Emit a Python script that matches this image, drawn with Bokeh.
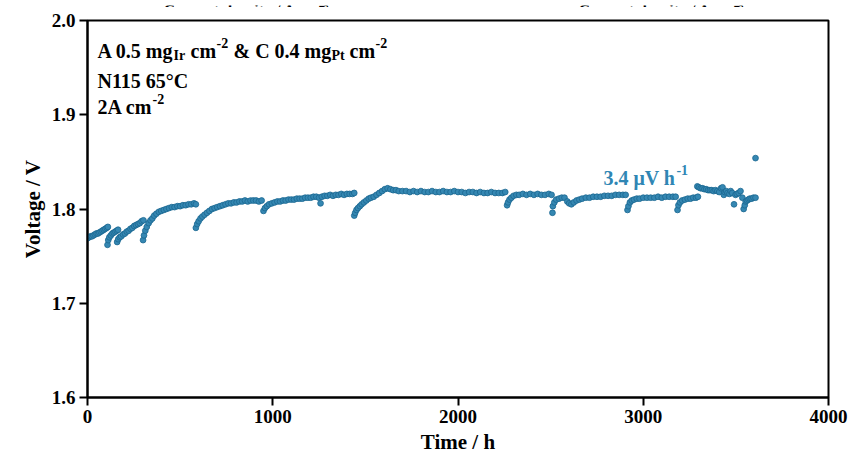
from bokeh.plotting import figure
from bokeh.models import Range1d, FixedTicker, Label, PrintfTickFormatter
from bokeh.layouts import column
from bokeh.core.properties import value
from bokeh.embed import file_html
from bokeh.resources import INLINE

# ---- data (time in h, voltage in V) ----
hours = [
    0, 8, 16, 24, 32, 40, 48, 56, 64, 72, 80, 88, 96, 104, 110,
    108, 112, 118, 126, 134, 142, 150, 158, 165,
    160, 166, 174, 182, 192, 202, 212, 222, 232, 242, 252, 262, 272, 282, 292, 302,
    300, 305, 312, 320, 330, 340, 350, 360, 372, 385, 398, 412, 426, 440, 455, 470,
    485, 500, 515, 530, 545, 560, 575, 585,
    585, 592, 600, 610, 620, 632, 645, 658, 672, 686, 700, 715, 730, 745, 760, 775,
    790, 805, 820, 835, 850, 865, 880, 895, 910, 925, 940,
    950, 958, 968, 980, 995, 1010, 1025, 1040, 1055, 1070, 1085, 1100, 1115, 1130,
    1145, 1160, 1175, 1190, 1205, 1220, 1235, 1250, 1258, 1265, 1280, 1295, 1310,
    1325, 1340, 1355, 1370, 1385, 1400, 1415, 1430, 1440,
    1440, 1445, 1452, 1460, 1470, 1480, 1492, 1505, 1518, 1530, 1545, 1560, 1575,
    1590, 1605, 1620, 1635, 1650, 1665, 1680, 1700, 1720, 1740, 1760, 1780, 1800,
    1820, 1840, 1860, 1880, 1900, 1920, 1940, 1960, 1980, 2000, 2020, 2040, 2060,
    2080, 2100, 2120, 2140, 2160, 2180, 2200, 2220, 2240, 2255,
    2265, 2270, 2278, 2288, 2300, 2315, 2330, 2350, 2370, 2390, 2410, 2430, 2450,
    2470, 2490, 2505,
    2510, 2512, 2520, 2530, 2545, 2560, 2575, 2590, 2600, 2612, 2625, 2640, 2655,
    2670, 2690, 2710, 2730, 2750, 2770, 2790, 2810, 2830, 2850, 2870, 2890, 2905,
    2915, 2920, 2928, 2938, 2950, 2965, 2980, 3000, 3020, 3040, 3060, 3080, 3100,
    3120, 3140, 3160, 3175,
    3185, 3190, 3198, 3210, 3225, 3240, 3255, 3270, 3285, 3295,
    3292, 3300, 3310, 3320, 3330, 3340, 3350, 3360, 3370, 3380, 3390, 3400, 3410,
    3420, 3428, 3435, 3440, 3448, 3455, 3465, 3472, 3480, 3490, 3498, 3505, 3515,
    3525, 3535, 3542, 3548, 3553, 3560, 3568, 3575, 3585, 3595, 3606, 3606,
]
volts = [
    1.769, 1.770, 1.771, 1.771, 1.772, 1.773, 1.774, 1.774, 1.775, 1.776, 1.777, 1.778, 1.779, 1.780, 1.781,
    1.762, 1.767, 1.770, 1.772, 1.774, 1.775, 1.776, 1.777, 1.778,
    1.765, 1.768, 1.770, 1.771, 1.773, 1.774, 1.776, 1.777, 1.779, 1.780, 1.782, 1.783, 1.784, 1.785, 1.787, 1.788,
    1.767, 1.772, 1.777, 1.781, 1.785, 1.788, 1.790, 1.793, 1.795, 1.797, 1.798, 1.799, 1.800, 1.801, 1.802, 1.802,
    1.803, 1.803, 1.804, 1.804, 1.805, 1.805, 1.806, 1.805,
    1.780, 1.784, 1.787, 1.790, 1.792, 1.794, 1.796, 1.798, 1.800, 1.801, 1.802, 1.803, 1.804, 1.805, 1.806, 1.806,
    1.807, 1.807, 1.808, 1.808, 1.809, 1.808, 1.809, 1.809, 1.809, 1.808, 1.809,
    1.798, 1.801, 1.803, 1.805, 1.806, 1.807, 1.808, 1.808, 1.809, 1.809, 1.810, 1.810, 1.810, 1.811,
    1.811, 1.811, 1.812, 1.812, 1.812, 1.813, 1.813, 1.812, 1.806, 1.813, 1.814, 1.814, 1.815,
    1.814, 1.815, 1.815, 1.816, 1.815, 1.816, 1.816, 1.816, 1.817,
    1.793, 1.796, 1.799, 1.801, 1.803, 1.805, 1.807, 1.809, 1.811, 1.812, 1.813, 1.815, 1.817,
    1.819, 1.821, 1.822, 1.821, 1.820, 1.820, 1.819, 1.819, 1.819, 1.818, 1.819, 1.818, 1.819,
    1.818, 1.818, 1.819, 1.818, 1.818, 1.819, 1.818, 1.818, 1.819, 1.818, 1.818, 1.817, 1.818,
    1.818, 1.817, 1.818, 1.817, 1.817, 1.818, 1.817, 1.817, 1.817, 1.818,
    1.804, 1.807, 1.810, 1.812, 1.814, 1.815, 1.815, 1.816, 1.815, 1.816, 1.815, 1.816, 1.815,
    1.815, 1.816, 1.815,
    1.796, 1.803, 1.807, 1.810, 1.811, 1.812, 1.812, 1.808, 1.806, 1.805, 1.807, 1.809, 1.810,
    1.811, 1.812, 1.812, 1.813, 1.813, 1.813, 1.814, 1.814, 1.814, 1.815, 1.815, 1.815, 1.815,
    1.799, 1.803, 1.807, 1.809, 1.810, 1.811, 1.811, 1.812, 1.812, 1.812, 1.812, 1.813, 1.812,
    1.813, 1.813, 1.813, 1.813,
    1.799, 1.804, 1.807, 1.809, 1.810, 1.811, 1.811, 1.812, 1.812, 1.813,
    1.824, 1.823, 1.822, 1.822, 1.821, 1.821, 1.820, 1.820, 1.820, 1.819, 1.820, 1.819, 1.818,
    1.822, 1.823, 1.815, 1.818, 1.819, 1.817, 1.816, 1.819, 1.817, 1.805, 1.815, 1.816, 1.817,
    1.819, 1.812, 1.800, 1.804, 1.808, 1.809, 1.810, 1.811, 1.811, 1.812, 1.812, 1.854,
]

x_ticks = [0, 1000, 2000, 3000, 4000]
y_ticks = [1.6, 1.7, 1.8, 1.9, 2.0]
neighbour_titles = ["Current density / A cm⁻²", "Current density / A cm⁻²"]
neighbour_title_hours = [410, 2650]   # left edges of the cut-off titles, on the time axis

FONT = "Liberation Serif"
BLUE = "#3587b2"
EDGE = "#1b6790"
TEXT_BLUE = "#2f86b4"
STRIP_H = 7

# thin strip at the very top showing the cut-off titles of neighbouring panels
# (its frame is aligned with the main plot's frame by the column layout)
top = figure(width=849, height=STRIP_H, output_backend="svg", toolbar_location=None,
             x_range=Range1d(0, 4000), y_range=Range1d(0, STRIP_H),
             min_border=0, min_border_left=87, min_border_right=21,
             min_border_top=0, min_border_bottom=0)
top.axis.visible = False
top.grid.visible = False
top.outline_line_color = None
top.text(x=neighbour_title_hours, y=[2, 2], text=neighbour_titles,
         text_font=value(FONT), text_font_style="bold", text_font_size="16px",
         text_color="black", text_baseline="alphabetic", text_align="left")

p = figure(width=849, height=456 - STRIP_H, output_backend="svg", toolbar_location=None,
           x_range=Range1d(0, 4000), y_range=Range1d(1.6, 2.0),
           min_border_left=87, min_border_right=21, min_border_top=20 - STRIP_H,
           min_border_bottom=54)

p.grid.visible = False
p.outline_line_color = "black"
p.outline_line_width = 2
p.background_fill_color = "white"
p.border_fill_color = "white"

for ax in (p.xaxis[0], p.yaxis[0]):
    ax.axis_line_width = 2
    ax.axis_line_color = "black"
    ax.major_tick_line_width = 2
    ax.major_tick_in = 0
    ax.major_tick_out = 8
    ax.minor_tick_line_color = None
    ax.major_label_text_font = FONT
    ax.major_label_text_font_style = "bold"
    ax.major_label_text_font_size = "19px"
    ax.major_label_text_color = "black"
    ax.axis_label_text_font = FONT
    ax.axis_label_text_font_style = "bold"
    ax.axis_label_text_font_size = "21px"
    ax.axis_label_text_color = "black"
    ax.major_label_standoff = 4
    ax.axis_label_standoff = 4

p.xaxis.ticker = FixedTicker(ticks=x_ticks)
p.yaxis.ticker = FixedTicker(ticks=y_ticks)
p.yaxis.formatter = PrintfTickFormatter(format="%.1f")
p.xaxis.axis_label = "Time / h"
p.yaxis.axis_label = "Voltage / V"

p.scatter(hours, volts, size=5.8, fill_color=BLUE, line_color=EDGE, line_width=0.8)

def lab(text, dx, dy, size, color="black", x=0, y=2.0):
    p.add_layout(Label(x=x, y=y, x_offset=dx, y_offset=dy, text=text,
                       text_font=FONT, text_font_style="bold",
                       text_font_size=size, text_color=color,
                       text_baseline="alphabetic", text_align="left"))

# text block at top-left (offsets from frame top-left corner, in px)
lab("A 0.5 mg", 10, -30, "20px")
lab("Ir", 86, -35, "14px")
lab("cm", 103, -30, "20px")
lab("-2", 129, -22, "14px")
lab("& C 0.4 mg", 146, -30, "20px")
lab("Pt", 244, -35, "14px")
lab("cm", 262, -30, "20px")
lab("-2", 288, -22, "14px")
lab("N115 65°C", 10, -60, "20px")
lab("2A cm", 10, -86, "20px")
lab("-2", 65, -78, "14px")

# slope annotation
lab("3.4 μV h", 0, 0, "20px", TEXT_BLUE, x=2785, y=1.8325)
lab("-1", 73, 8, "14px", TEXT_BLUE, x=2785, y=1.8325)

layout = column(top, p, spacing=0)
open("out.html", "w").write(file_html(layout, INLINE))
